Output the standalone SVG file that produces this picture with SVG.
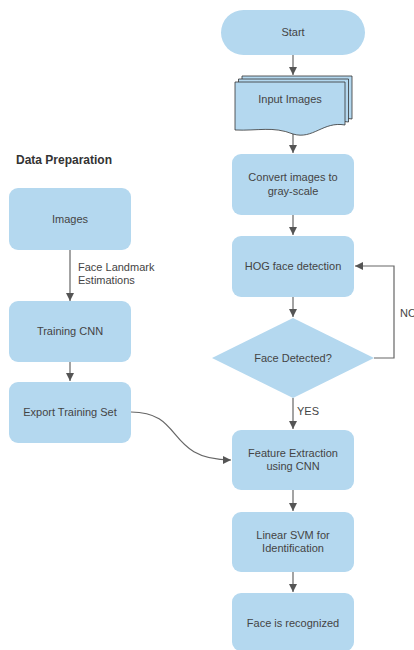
<svg xmlns="http://www.w3.org/2000/svg" width="414" height="650" viewBox="0 0 414 650">
<defs>
<style>
.n{fill:#b4d8ef;stroke:none}
.t{font-family:"Liberation Sans",Arial,sans-serif;font-size:11px;fill:#444;text-anchor:middle}
.l{font-family:"Liberation Sans",Arial,sans-serif;font-size:11px;fill:#444}
.c{stroke:#666;stroke-width:1.2;fill:none}
.sh{fill:#b4d8ef;stroke:#333;stroke-width:0.8}
</style>
<marker id="a" viewBox="0 0 10 10" refX="10" refY="5" markerWidth="8" markerHeight="8" markerUnits="userSpaceOnUse" orient="auto">
<path d="M0,0 L10,5 L0,10 z" fill="#555"/>
</marker>
</defs>
<rect width="414" height="650" fill="#fff"/>
<text x="16" y="164" font-family="'Liberation Sans',Arial,sans-serif" font-size="12" font-weight="bold" fill="#333">Data Preparation</text>

<g id="connectors">
<line class="c" x1="293" y1="55" x2="293" y2="75" marker-end="url(#a)"/>
<line class="c" x1="293" y1="134" x2="293" y2="153" marker-end="url(#a)"/>
<line class="c" x1="293" y1="215" x2="293" y2="235" marker-end="url(#a)"/>
<line class="c" x1="293" y1="297" x2="293" y2="317" marker-end="url(#a)"/>
<line class="c" x1="293" y1="398" x2="293" y2="429" marker-end="url(#a)"/>
<line class="c" x1="293" y1="490" x2="293" y2="511" marker-end="url(#a)"/>
<line class="c" x1="293" y1="572" x2="293" y2="592" marker-end="url(#a)"/>
<path class="c" d="M374,358 H394 V266 H355" marker-end="url(#a)"/>
<line class="c" x1="70" y1="250" x2="70" y2="301" marker-end="url(#a)"/>
<line class="c" x1="70" y1="362" x2="70" y2="381" marker-end="url(#a)"/>
<path class="c" d="M131,412 C185,412 165,460 231,460" marker-end="url(#a)"/>
<text class="l" x="297" y="415">YES</text>
<text class="l" x="400" y="317">NO</text>
<text class="l" x="78" y="271">Face Landmark</text>
<text class="l" x="78" y="284">Estimations</text>
</g>

<g id="start"><rect class="n" x="221" y="10" width="144" height="45" rx="22.5"/><text class="t" x="293" y="36">Start</text></g>
<g id="input">
<path class="sh" d="M242,76 H352 V119 C330,115 320,134 300,128 C280,120 265,125 242,124 Z"/>
<path class="sh" d="M238.5,79 H348.5 V122 C326,118 316,137 296,131 C276,123 261,128 238.5,127 Z"/>
<path class="sh" d="M235,82 H345 V125 C323,121 313,140 293,134 C273,126 258,131 235,130 Z"/>
<text class="t" x="290" y="103">Input Images</text>
</g>
<g id="convert"><rect class="n" x="232" y="154" width="122" height="61" rx="9"/><text class="t" x="293" y="181">Convert images to</text><text class="t" x="293" y="195">gray-scale</text></g>
<g id="hog"><rect class="n" x="232" y="236" width="122" height="61" rx="9"/><text class="t" x="293" y="270">HOG face detection</text></g>
<g id="decision"><polygon class="n" points="293,318 374,358 293,398 212,358"/><text class="t" x="293" y="362">Face Detected?</text></g>
<g id="feature"><rect class="n" x="232" y="430" width="122" height="60" rx="9"/><text class="t" x="293" y="457">Feature Extraction</text><text class="t" x="293" y="470">using CNN</text></g>
<g id="svm"><rect class="n" x="232" y="512" width="122" height="60" rx="9"/><text class="t" x="293" y="539">Linear SVM for</text><text class="t" x="293" y="552">Identification</text></g>
<g id="recognized"><rect class="n" x="232" y="593" width="122" height="58" rx="9"/><text class="t" x="293" y="627">Face is recognized</text></g>

<g id="images"><rect class="n" x="9" y="188" width="122" height="62" rx="9"/><text class="t" x="70" y="223">Images</text></g>
<g id="training"><rect class="n" x="9" y="301" width="122" height="61" rx="9"/><text class="t" x="70" y="335">Training CNN</text></g>
<g id="export"><rect class="n" x="9" y="382" width="122" height="61" rx="9"/><text class="t" x="70" y="416">Export Training Set</text></g>
</svg>
